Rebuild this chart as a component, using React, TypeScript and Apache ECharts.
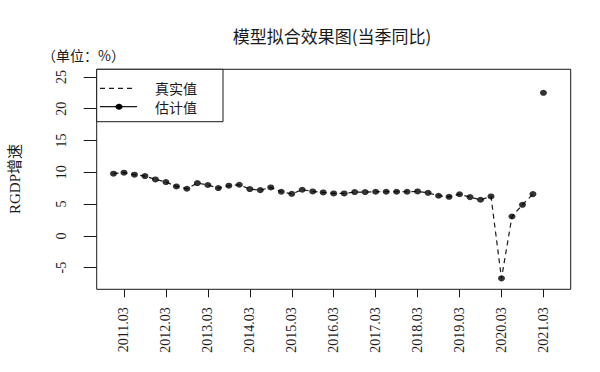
import React, { useEffect, useRef } from "react";
import * as echarts from "echarts";

// quarter index 0 = 2010Q4 ... 41 = 2021Q1
const tickIndex = [1, 5, 9, 13, 17, 21, 25, 29, 33, 37, 41];
const tickLabels = ["2011.03", "2012.03", "2013.03", "2014.03", "2015.03", "2016.03", "2017.03", "2018.03", "2019.03", "2020.03", "2021.03"];
const yTicks = [-5, 0, 5, 10, 15, 20, 25];

const trueValues: (number | null)[] = [
  9.78, 9.94, 9.62, 9.41, 8.88, 8.47, 7.78, 7.41, 8.31, 8.0,
  7.52, 7.89, 8.04, 7.36, 7.2, 7.62, 6.94, 6.62, 7.26, 6.99,
  6.83, 6.68, 6.68, 6.89, 6.89, 6.94, 6.94, 6.94, 6.94, 6.99,
  6.78, 6.31, 6.15, 6.55, 6.1, 5.68, 6.2, -6.7, 3.05, 4.89,
  6.57, null,
];
const estValues: number[] = [
  9.78, 9.94, 9.62, 9.41, 8.88, 8.47, 7.78, 7.41, 8.31, 8.0,
  7.52, 7.89, 8.04, 7.36, 7.2, 7.62, 6.94, 6.62, 7.26, 6.99,
  6.83, 6.68, 6.68, 6.89, 6.89, 6.94, 6.94, 6.94, 6.94, 6.99,
  6.78, 6.31, 6.15, 6.55, 6.1, 5.68, 6.2, -6.68, 3.05, 4.89,
  6.57, 22.5,
];

const SERIF = "'Liberation Serif', 'Noto Sans CJK SC', serif";
const CJK = "'Noto Sans CJK SC', sans-serif";
const INK = "#1a1a1a";

export default function App() {
  const ref = useRef<HTMLDivElement>(null);
  useEffect(() => {
    if (!ref.current) return;
    const chart = echarts.init(ref.current, undefined, { renderer: "svg" });
    const left = 96.7, top = 69.3, right = 570.7, bottom = 289.3;
    chart.setOption({
      animation: false,
      backgroundColor: "#ffffff",
      grid: {
        left, top, right: 600 - right, bottom: 372 - bottom,
        show: true, borderColor: INK, borderWidth: 1, backgroundColor: "transparent",
      },
      xAxis: {
        type: "value", min: -1.6, max: 43.6,
        splitLine: { show: false },
        axisLine: { show: false, onZero: false },
        axisTick: { show: true, length: 8, customValues: tickIndex, lineStyle: { color: INK } },
        axisLabel: {
          customValues: tickIndex, rotate: 90, margin: 18,
          fontFamily: SERIF, fontSize: 14, color: INK,
          formatter: (v: number) => tickLabels[tickIndex.indexOf(Math.round(v))] ?? "",
        },
      },
      yAxis: {
        type: "value", min: -8.4, max: 26.2,
        splitLine: { show: false },
        axisLine: { show: false, onZero: false },
        axisTick: { show: true, length: 13, customValues: yTicks, lineStyle: { color: INK } },
        axisLabel: {
          customValues: yTicks, rotate: 90, margin: 28,
          fontFamily: SERIF, fontSize: 14, color: INK,
        },
      },
      series: [
        {
          name: "真实值", type: "line",
          data: trueValues.map((v, i) => [i, v]),
          symbol: "none", connectNulls: false,
          lineStyle: { color: INK, width: 1.2, type: [5, 4] },
          z: 2,
        },
        {
          name: "估计值", type: "scatter",
          data: estValues.map((v, i) => [i, v]),
          symbol: "circle", symbolSize: [7, 6],
          itemStyle: { color: "#000" },
          z: 3,
        },
      ],
      graphic: [
        {
          type: "text", x: 332, y: 35, z: 100,
          style: { text: "模型拟合效果图(当季同比)", font: `17px ${CJK}`, fill: INK, textAlign: "center", textVerticalAlign: "middle" },
        },
        {
          type: "text", x: 42, y: 55, z: 100,
          style: { text: "（单位：%）", font: `14px ${CJK}`, fill: INK, textAlign: "left", textVerticalAlign: "middle" },
        },
        {
          type: "text", x: 15, y: 179, rotation: Math.PI / 2, z: 100,
          style: { text: "RGDP增速", font: `15px ${SERIF}`, fill: INK, textAlign: "center", textVerticalAlign: "middle" },
        },
        {
          type: "rect", z: 100,
          shape: { x: left, y: top, width: 126.3, height: 52.4 },
          style: { fill: "#fff", stroke: INK, lineWidth: 1 },
        },
        {
          type: "line", z: 101,
          shape: { x1: 100, y1: 88.3, x2: 136, y2: 88.3 },
          style: { stroke: INK, lineWidth: 1.2, lineDash: [5, 4] },
        },
        {
          type: "line", z: 101,
          shape: { x1: 100, y1: 106.7, x2: 137, y2: 106.7 },
          style: { stroke: INK, lineWidth: 1.2 },
        },
        {
          type: "ellipse", z: 102,
          shape: { cx: 119, cy: 106.7, rx: 3.5, ry: 3 },
          style: { fill: "#000" },
        },
        {
          type: "text", x: 155, y: 88.3, z: 101,
          style: { text: "真实值", font: `14px ${CJK}`, lineHeight: 16, fill: INK, textAlign: "left", textVerticalAlign: "middle" },
        },
        {
          type: "text", x: 155, y: 106.7, z: 101,
          style: { text: "估计值", font: `14px ${CJK}`, lineHeight: 16, fill: INK, textAlign: "left", textVerticalAlign: "middle" },
        },
      ],
    });
    return () => chart.dispose();
  }, []);
  return (
    <div
      ref={ref}
      style={{ position: "fixed", left: 0, top: 0, width: 600, height: 372, background: "#fff" }}
    />
  );
}
